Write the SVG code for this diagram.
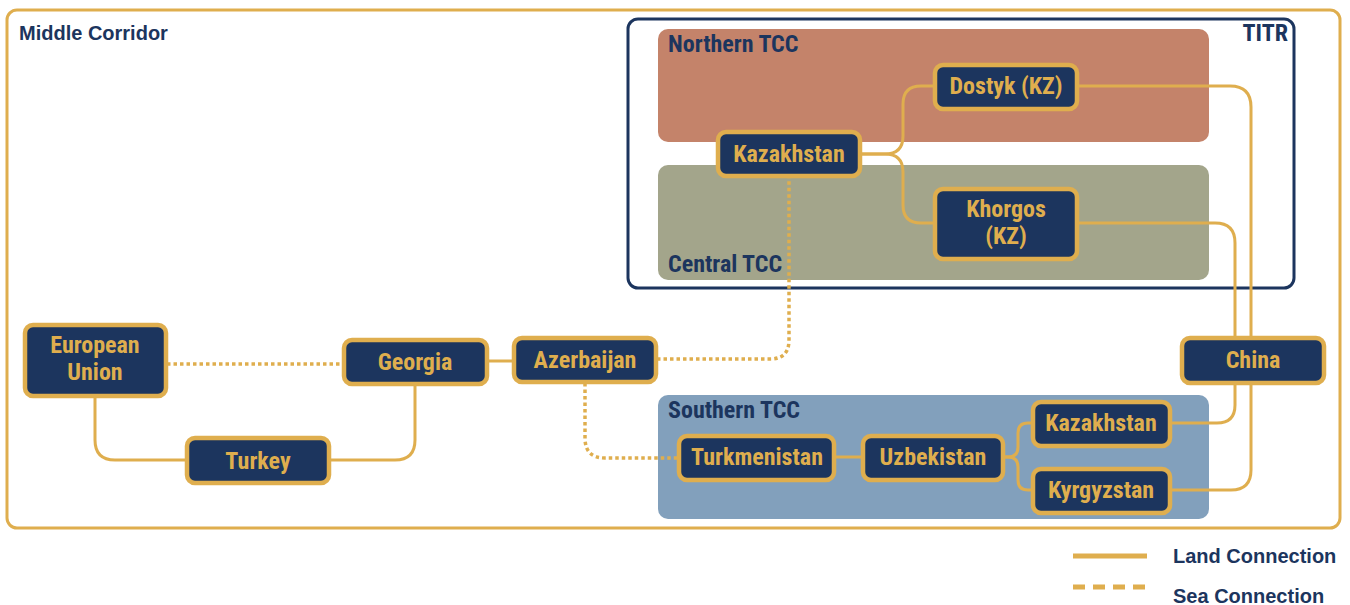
<svg xmlns="http://www.w3.org/2000/svg" width="1350" height="605" viewBox="0 0 1350 605">
<style>
.hdr{font-family:"Liberation Sans",Arial,sans-serif;font-weight:bold;fill:#1c355e;font-size:20px}
.grp{font-family:"Liberation Sans Narrow","Roboto Condensed","Liberation Sans",sans-serif;font-weight:bold;fill:#1c355e;font-size:24px}
.node rect{fill:#1c355e;stroke:#dfae4e;stroke-width:4.5}
.node text{font-family:"Liberation Sans Narrow","Roboto Condensed","Liberation Sans",sans-serif;font-weight:bold;fill:#dfae4e;font-size:24px;text-anchor:middle}
.land{fill:none;stroke:#dfae4e;stroke-width:3}
.sea{fill:none;stroke:#dfae4e;stroke-width:3.5;stroke-dasharray:3.5 3}
</style>
<rect width="1350" height="605" fill="#ffffff"/>
<g id="middle-corridor">
<rect x="7" y="10" width="1333" height="518" rx="10" fill="none" stroke="#dfae4e" stroke-width="3"/>
<text class="hdr" x="19" y="40">Middle Corridor</text>
</g>
<g id="titr">
<rect x="628" y="19" width="666" height="269" rx="10" fill="none" stroke="#1c355e" stroke-width="3"/>
<text class="grp" x="1288" y="41" text-anchor="end">TITR</text>
</g>
<g id="northern-tcc">
<rect x="658" y="29" width="551" height="113" rx="10" fill="#c4836a"/>
<text class="grp" x="668" y="52">Northern TCC</text>
</g>
<g id="central-tcc">
<rect x="658" y="165" width="551" height="115" rx="10" fill="#a3a58b"/>
<text class="grp" x="668" y="272">Central TCC</text>
</g>
<g id="southern-tcc">
<rect x="658" y="395" width="551" height="124" rx="10" fill="#82a0bc"/>
<text class="grp" x="668" y="418">Southern TCC</text>
</g>
<g id="connectors">
<path class="sea" d="M167,364 H342"/>
<path class="land" d="M95,397 V440 Q95,460 115,460 H185"/>
<path class="land" d="M330,460 H395 Q415,460 415,440 V385"/>
<path class="land" d="M488,361 H512"/>
<path class="sea" d="M657,359 H770 Q789,359 789,340 V178"/>
<path class="sea" d="M585,383 V438 Q585,458 605,458 H677"/>
<path class="land" d="M835,457 H861"/>
<path class="land" d="M1004,457 H1008 Q1018,457 1018,447 V433 Q1018,423 1028,423 H1031"/>
<path class="land" d="M1004,457 H1008 Q1018,457 1018,467 V480 Q1018,490 1028,490 H1031"/>
<path class="land" d="M861,154 H885 Q903,154 903,136 V104 Q903,86 921,86 H933"/>
<path class="land" d="M861,154 H885 Q903,154 903,172 V205 Q903,223 921,223 H933"/>
<path class="land" d="M1078,86 H1230 Q1251,86 1251,107 V470 Q1251,490 1231,490 H1171"/>
<path class="land" d="M1078,223 H1215 Q1235,223 1235,243 V405 Q1235,423 1217,423 H1171"/>
</g>
<g id="european-union" class="node"><rect x="25" y="325" width="141" height="71" rx="8"/><text x="95" y="353">European</text><text x="95" y="380">Union</text></g>
<g id="georgia" class="node"><rect x="344" y="340" width="143" height="44" rx="8"/><text x="415" y="370">Georgia</text></g>
<g id="azerbaijan" class="node"><rect x="514" y="338" width="142" height="44" rx="8"/><text x="585" y="368">Azerbaijan</text></g>
<g id="turkey" class="node"><rect x="187" y="438" width="142" height="45" rx="8"/><text x="258" y="469">Turkey</text></g>
<g id="kazakhstan-titr" class="node"><rect x="718" y="132" width="142" height="44" rx="8"/><text x="789" y="162">Kazakhstan</text></g>
<g id="dostyk" class="node"><rect x="935" y="65" width="142" height="44" rx="8"/><text x="1006" y="94">Dostyk (KZ)</text></g>
<g id="khorgos" class="node"><rect x="935" y="189" width="142" height="70" rx="8"/><text x="1006" y="217">Khorgos</text><text x="1006" y="244">(KZ)</text></g>
<g id="china" class="node"><rect x="1182" y="338" width="142" height="45" rx="8"/><text x="1253" y="368">China</text></g>
<g id="turkmenistan" class="node"><rect x="679" y="436" width="155" height="44" rx="8"/><text x="757" y="465">Turkmenistan</text></g>
<g id="uzbekistan" class="node"><rect x="863" y="436" width="140" height="44" rx="8"/><text x="933" y="465">Uzbekistan</text></g>
<g id="kazakhstan-s" class="node"><rect x="1033" y="402" width="137" height="44" rx="8"/><text x="1101" y="431">Kazakhstan</text></g>
<g id="kyrgyzstan" class="node"><rect x="1033" y="469" width="137" height="44" rx="8"/><text x="1101" y="498">Kyrgyzstan</text></g>
<g id="legend">
<path d="M1073,556 H1147" stroke="#dfae4e" stroke-width="5" fill="none"/>
<path d="M1073,587 H1147" stroke="#dfae4e" stroke-width="5" fill="none" stroke-dasharray="12 8"/>
<text class="hdr" x="1173" y="563">Land Connection</text>
<text class="hdr" x="1173" y="603">Sea Connection</text>
</g>
</svg>
